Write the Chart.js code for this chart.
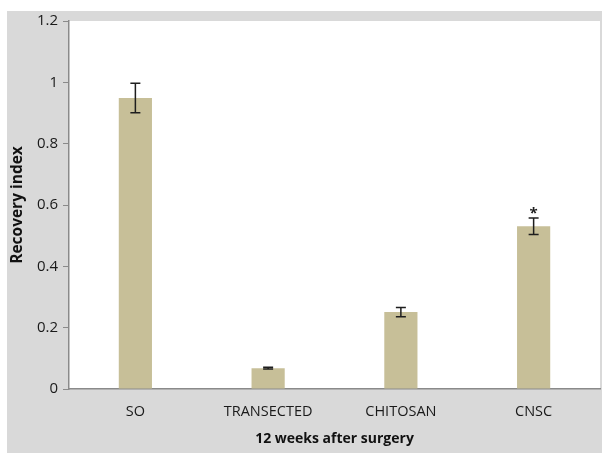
<!DOCTYPE html>
<html>
<head>
<meta charset="utf-8">
<script src="https://cdn.jsdelivr.net/npm/chart.js@4.4.0/dist/chart.umd.min.js"></script>
<style>
  html, body { margin: 0; padding: 0; background: #ffffff; }
  #wrap { width: 602px; height: 453px; position: relative; }
</style>
</head>
<body>
<div id="wrap"><canvas id="c" width="602" height="453"></canvas></div>
<script>
const categories = ['SO', 'TRANSECTED', 'CHITOSAN', 'CNSC'];
const recoveryIndex = [0.949, 0.068, 0.251, 0.531];
const errorValues = [0.048, 0.003, 0.015, 0.027];
const significance = ['', '', '', '*'];
const yTicks = [0, 0.2, 0.4, 0.6, 0.8, 1, 1.2];

const FONT = '"Open Sans", "Liberation Sans", sans-serif';

const backgroundPlugin = {
  id: 'bg',
  beforeDraw(chart) {
    const ctx = chart.ctx, a = chart.chartArea;
    ctx.save();
    ctx.fillStyle = '#ffffff';
    ctx.fillRect(0, 0, chart.width, chart.height);
    ctx.fillStyle = '#d9d9d9';
    ctx.fillRect(7, 11, chart.width - 7, chart.height - 11);
    ctx.fillStyle = '#ffffff';
    ctx.fillRect(a.left, a.top, a.right - a.left, a.bottom - a.top);
    ctx.restore();
  }
};

const errorBarPlugin = {
  id: 'errbars',
  afterDatasetsDraw(chart) {
    const ctx = chart.ctx;
    const meta = chart.getDatasetMeta(0);
    const y = chart.scales.y;
    ctx.save();
    ctx.strokeStyle = '#1e1e1e';
    ctx.lineWidth = 1.5;
    meta.data.forEach((bar, i) => {
      const v = recoveryIndex[i], e = errorValues[i];
      const x = bar.x;
      const yTop = y.getPixelForValue(v + e);
      const yBot = y.getPixelForValue(v - e);
      const cap = 5;
      ctx.beginPath();
      ctx.moveTo(x, yTop); ctx.lineTo(x, yBot);
      ctx.moveTo(x - cap, yTop); ctx.lineTo(x + cap, yTop);
      ctx.moveTo(x - cap, yBot); ctx.lineTo(x + cap, yBot);
      ctx.stroke();
      if (significance[i]) {
        ctx.fillStyle = '#1e1e1e';
        ctx.font = 'bold 15px ' + FONT;
        ctx.textAlign = 'center';
        ctx.textBaseline = 'bottom';
        ctx.fillText(significance[i], x, yTop + 3);
      }
    });
    ctx.restore();
  }
};

new Chart(document.getElementById('c'), {
  type: 'bar',
  data: {
    labels: categories,
    datasets: [{
      data: recoveryIndex,
      backgroundColor: '#c7bf98',
      borderWidth: 0,
      categoryPercentage: 1,
      barPercentage: 0.25
    }]
  },
  options: {
    responsive: false,
    animation: false,
    devicePixelRatio: 1,
    layout: { padding: { top: 21, right: 2, left: 0, bottom: 0 } },
    plugins: { legend: { display: false }, tooltip: { enabled: false } },
    scales: {
      x: {
        grid: { display: false, drawTicks: false },
        border: { display: true, color: '#8a8a8a', width: 1.5 },
        ticks: { color: '#1a1a1a', font: { family: FONT, size: 14.5 }, padding: 14, maxRotation: 0 },
        title: { display: true, text: '12 weeks after surgery', color: '#111', font: { family: FONT, size: 14, weight: 'bold' }, padding: { top: 0, bottom: 6 } },
        afterFit(s) { s.height = 64; }
      },
      y: {
        min: 0, max: 1.2,
        afterBuildTicks(s) { s.ticks = yTicks.map(v => ({ value: v })); },
        grid: { display: true, drawOnChartArea: false, drawTicks: true, tickLength: 6, color: '#8a8a8a' },
        border: { display: true, color: '#8a8a8a', width: 1.5 },
        ticks: { color: '#1a1a1a', font: { family: FONT, size: 15 }, padding: 5, callback: (v) => String(v) },
        title: { display: true, text: 'Recovery index', color: '#111', font: { family: FONT, size: 15.5, weight: 'bold' }, padding: { top: 8, bottom: 0 } },
        afterFit(s) { s.width = 69; }
      }
    }
  },
  plugins: [backgroundPlugin, errorBarPlugin]
});
</script>
</body>
</html>
